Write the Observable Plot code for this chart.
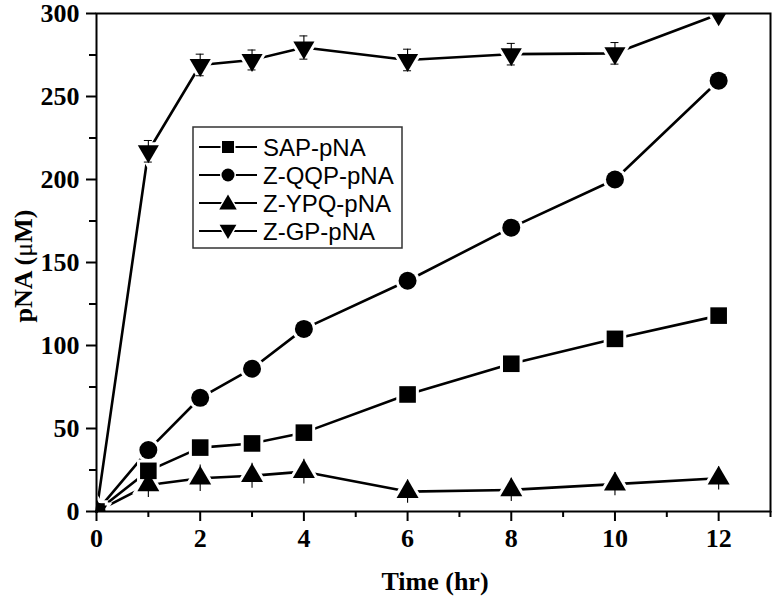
<!DOCTYPE html>
<html>
<head>
<meta charset="utf-8">
<script src="https://cdn.jsdelivr.net/npm/d3@7"></script>
<script src="https://cdn.jsdelivr.net/npm/@observablehq/plot@0.6"></script>
<style>
  html, body { margin: 0; padding: 0; background: #fff; }
  #chart { position: relative; width: 774px; height: 601px; }
</style>
</head>
<body>
<div id="chart"></div>
<script>
// ---- data ----
const time = [0, 1, 2, 3, 4, 6, 8, 10, 12];
const seriesNames = ["SAP-pNA", "Z-QQP-pNA", "Z-YPQ-pNA", "Z-GP-pNA"];
const sapValues = [0, 24.5, 38.5, 41, 47.5, 70.5, 89, 104, 118];
const qqpValues = [0, 37, 68.5, 86, 110, 139, 171, 200, 259.5];
const ypqValues = [0, 16, 20, 21.5, 24, 12, 13, 16.5, 20];
const gpValues = [0, 217, 269, 272, 279.5, 272, 275.5, 276, 299.5];
const sapErr = [0, 2, 2, 2, 2, 2, 4, 2, 2];
const qqpErr = [0, 2, 2, 2, 2, 2, 2, 2, 2];
const ypqErr = [0, 7.5, 8, 7.5, 7.5, 7, 7, 7, 7];
const gpErr = [0, 6.5, 6.5, 6, 7, 6.5, 6.5, 6.5, 2];
const capped = [false, false, false, true];
const xTicks = [0, 2, 4, 6, 8, 10, 12];
const xMinorTicks = [1, 3, 5, 7, 9, 11, 13];
const yTicks = [0, 50, 100, 150, 200, 250, 300];
const yMinorTicks = [25, 75, 125, 175, 225, 275];

// ---- custom symbols (r = half-size); triangles centred on their centroid ----
const sq = {draw(ctx, size) { const r = Math.sqrt(size / Math.PI); ctx.rect(-r, -r, 2 * r, 2 * r); }};
const circ = {draw(ctx, size) { const r = Math.sqrt(size / Math.PI); ctx.moveTo(r, 0); ctx.arc(0, 0, r, 0, 2 * Math.PI); }};
const triUp = {draw(ctx, size) { const r = Math.sqrt(size / Math.PI); const w = r * 1.25, h = r * 2.15;
  ctx.moveTo(0, -h * 2 / 3); ctx.lineTo(w, h / 3); ctx.lineTo(-w, h / 3); ctx.closePath(); }};
const triDown = {draw(ctx, size) { const r = Math.sqrt(size / Math.PI); const w = r * 1.2, h = r * 2.05;
  ctx.moveTo(0, h * 2 / 3); ctx.lineTo(w, -h / 3); ctx.lineTo(-w, -h / 3); ctx.closePath(); }};
const symbols = [sq, circ, triUp, triDown];
const sizes = [8.3, 9, 8.8, 8.8];

const valueArrays = [sapValues, qqpValues, ypqValues, gpValues];
const errArrays = [sapErr, qqpErr, ypqErr, gpErr];
const data = [];
valueArrays.forEach((vals, s) => vals.forEach((v, i) => data.push({
  series: seriesNames[s], s, x: time[i], y: v, e: errArrays[s][i]
})));
const withErr = data.filter(d => d.e > 0);
const withCap = withErr.filter(d => capped[d.s]);

const marks = [];
// lines
seriesNames.forEach((name, s) => {
  marks.push(Plot.line(data.filter(d => d.s === s), {x: "x", y: "y", stroke: "black", strokeWidth: 2.6}));
});
// white halos (gap between line and marker)
seriesNames.forEach((name, s) => {
  marks.push(Plot.dot(data.filter(d => d.s === s), {x: "x", y: "y", r: sizes[s], symbol: symbols[s],
    fill: "white", stroke: "white", strokeWidth: 6, clip: true}));
});
// error bars
marks.push(Plot.ruleX(withErr, {x: "x", y1: d => d.y - d.e, y2: d => d.y + d.e, stroke: "black", strokeWidth: 1.1, clip: true}));
marks.push(Plot.ruleY(withCap, {y: d => d.y + d.e, x1: "x", x2: "x", insetLeft: -4, insetRight: -4, stroke: "black", strokeWidth: 1, clip: true}));
marks.push(Plot.ruleY(withCap, {y: d => d.y - d.e, x1: "x", x2: "x", insetLeft: -4, insetRight: -4, stroke: "black", strokeWidth: 1, clip: true}));
// markers
seriesNames.forEach((name, s) => {
  marks.push(Plot.dot(data.filter(d => d.s === s), {x: "x", y: "y", r: sizes[s], symbol: symbols[s],
    fill: "black", stroke: "none", clip: true}));
});
// axes
const tickFont = {fontFamily: "'Liberation Serif', 'Times New Roman', serif", fontWeight: "bold", fontSize: 26};
marks.push(Plot.axisX(xTicks, {tickSize: 10, tickPadding: 7, strokeWidth: 2, label: null, ...tickFont}));
marks.push(Plot.axisX(xMinorTicks, {tickSize: 6, strokeWidth: 2, label: null, tickFormat: () => ""}));
marks.push(Plot.axisY(yTicks, {tickSize: 10, tickPadding: 7, strokeWidth: 2, label: null, ...tickFont}));
marks.push(Plot.axisY(yMinorTicks, {tickSize: 7, strokeWidth: 2, label: null, tickFormat: () => ""}));
marks.push(Plot.frame({stroke: "black", strokeWidth: 2}));

const plot = Plot.plot({
  width: 774,
  height: 601,
  marginLeft: 96,
  marginRight: 4,
  marginTop: 13,
  marginBottom: 90,
  style: {background: "white", color: "black", overflow: "visible"},
  x: {domain: [0, 13]},
  y: {domain: [0, 300]},
  marks
});
document.getElementById("chart").appendChild(plot);

// ---- axis titles and legend ----
const svg = d3.select(plot);
const serif = "'Liberation Serif', 'Times New Roman', serif";
svg.append("text")
  .attr("x", 435).attr("y", 590)
  .attr("text-anchor", "middle")
  .attr("font-family", serif)
  .attr("font-weight", "bold").attr("font-size", 26)
  .attr("fill", "black")
  .text("Time (hr)");
const yl = svg.append("text")
  .attr("transform", "translate(32,266) rotate(-90)")
  .attr("text-anchor", "middle")
  .attr("font-family", serif)
  .attr("font-weight", "bold").attr("font-size", 26)
  .attr("fill", "black");
yl.append("tspan").text("pNA (");
yl.append("tspan").attr("font-weight", "normal").text("μ");
yl.append("tspan").text("M)");

const lg = svg.append("g");
lg.append("rect").attr("x", 193).attr("y", 127).attr("width", 209).attr("height", 121)
  .attr("fill", "white").attr("stroke", "#333").attr("stroke-width", 1.5);
const legendSizes = [6, 6.5, 7, 7];
seriesNames.forEach((name, s) => {
  const cy = 147 + s * 28;
  const off = s === 2 ? 1.5 : s === 3 ? -1.5 : 0;
  lg.append("line").attr("x1", 199).attr("x2", 257).attr("y1", cy).attr("y2", cy)
    .attr("stroke", "black").attr("stroke-width", 2);
  lg.append("path").attr("transform", `translate(228,${cy + off})`)
    .attr("d", d3.symbol().type(symbols[s]).size(Math.PI * legendSizes[s] ** 2)())
    .attr("fill", "black").attr("stroke", "white").attr("stroke-width", 3).attr("paint-order", "stroke");
  lg.append("text").attr("x", 263).attr("y", cy).attr("dy", "0.36em")
    .attr("text-anchor", "start")
    .attr("font-family", "'Liberation Sans', Arial, sans-serif").attr("font-size", 24)
    .attr("fill", "black").text(name);
});
</script>
</body>
</html>
